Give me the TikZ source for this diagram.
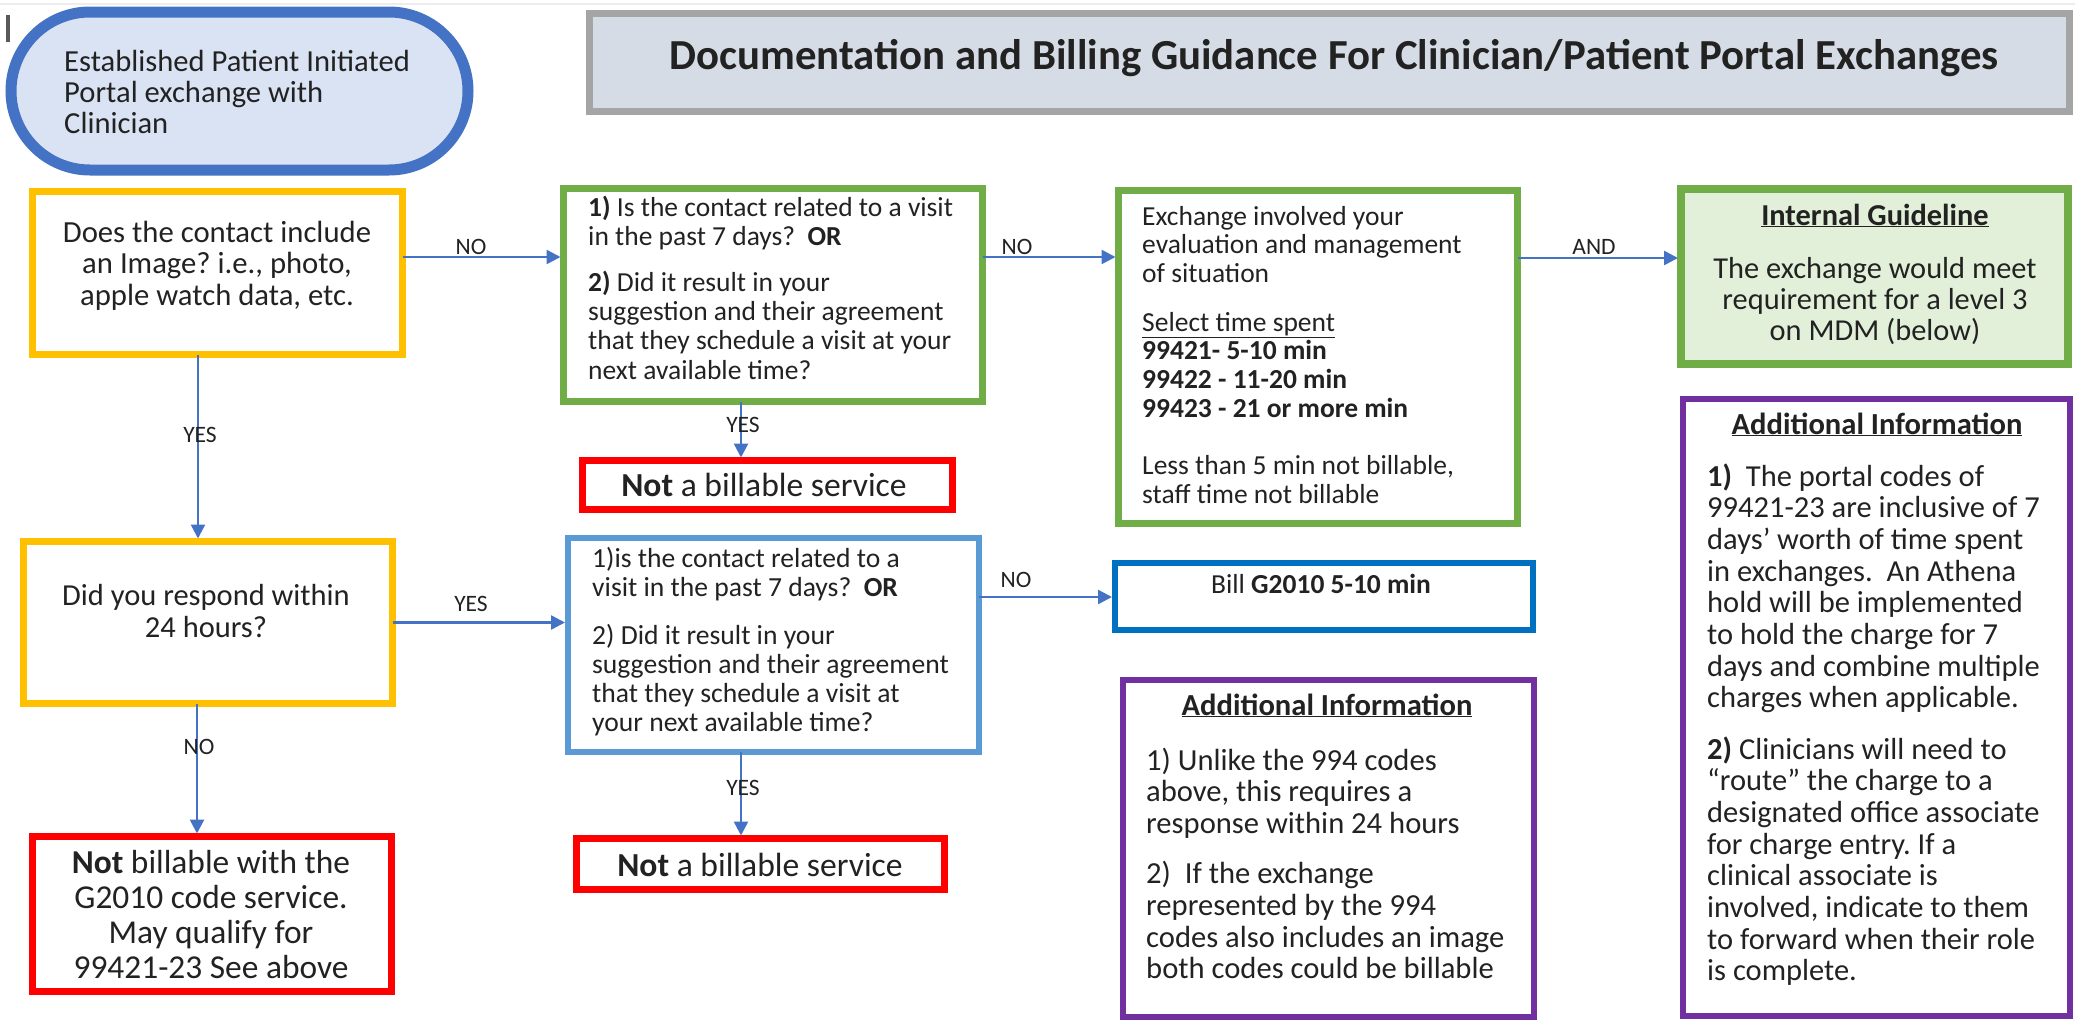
\documentclass[tikz,border=0pt]{standalone}
\usepackage{fontspec}
\setmainfont{Carlito}
\usetikzlibrary{arrows.meta}
\frenchspacing
\definecolor{txt}{HTML}{222222}
\definecolor{orng}{HTML}{FFC000}
\definecolor{grn}{HTML}{70AD47}
\definecolor{redb}{HTML}{FF0000}
\definecolor{lblue}{HTML}{5B9BD5}
\definecolor{dblue}{HTML}{0070C0}
\definecolor{purp}{HTML}{7030A0}
\definecolor{arrc}{HTML}{4472C4}
\definecolor{stfill}{HTML}{DAE3F3}
\definecolor{ttlfill}{HTML}{D6DCE5}
\definecolor{ttlline}{HTML}{A5A5A5}
\definecolor{igfill}{HTML}{E2F0D9}
\newcommand{\fs}[2]{\fontsize{#1pt}{#2pt}\selectfont}
\newcommand{\TL}[1]{\begin{tabular}[t]{@{}l@{}}#1\end{tabular}}
\newcommand{\TC}[1]{\begin{tabular}[t]{@{}c@{}}#1\end{tabular}}
\tikzset{
  box/.style={draw, rectangle, inner sep=0pt, outer sep=0pt, fill=white},
  lbl/.style={font=\fs{23.5}{28}, text=txt, inner sep=0pt},
  arr/.style={draw=arrc, line width=2.5pt, -{Triangle[length=14pt,width=14pt]}, shorten >=3pt},
  txtn/.style={inner sep=0pt, text=txt, anchor=base west},
  txtc/.style={inner sep=0pt, text=txt, anchor=base},
}
\begin{document}
\begin{tikzpicture}[x=1pt,y=-1pt]
\useasboundingbox (0,0) rectangle (2075,1023);
\fill[white] (0,0) rectangle (2075,1023);
\draw[line width=2pt, draw=black!7] (0,4) -- (2075,4);
\draw[line width=3.5pt, draw=black!65] (8,15) -- (8,42);

% start stadium
\node[draw=arrc, line width=11pt, fill=stfill, rounded corners=79pt, minimum width=457pt, minimum height=158pt, inner sep=0pt] (st) at (239.5,91) {};
\node[txtn] (tst) at (64,71) {\fs{30.6}{31}\TL{Established Patient Initiated\\Portal exchange with\\Clinician}};

% title
\node[box, draw=ttlline, line width=7pt, fill=ttlfill, minimum width=1480pt, minimum height=98pt] (ttl) at (1329,62) {};
\node[txtc] (tttl) at (1334,69) {\fs{42.8}{50}\bfseries Documentation and Billing Guidance For Clinician/Patient Portal Exchanges};

% boxes
\node[box, draw=orng, line width=7pt, minimum width=370pt, minimum height=163pt] (o1) at (217.5,273) {};
\node[box, draw=orng, line width=7pt, minimum width=369pt, minimum height=162pt] (o2) at (208,622.5) {};
\node[box, draw=grn, line width=7pt, minimum width=419pt, minimum height=213pt] (g1) at (773,295) {};
\node[box, draw=grn, line width=7pt, minimum width=399pt, minimum height=333pt] (g2) at (1318,357) {};
\node[box, draw=grn, line width=8pt, fill=igfill, minimum width=387pt, minimum height=175pt] (ig) at (1874.5,276.5) {};
\node[box, draw=purp, line width=6pt, minimum width=387pt, minimum height=617pt] (rp) at (1876.5,707.5) {};
\node[box, draw=redb, line width=7pt, minimum width=370pt, minimum height=49pt] (r1) at (767.5,485) {};
\node[box, draw=lblue, line width=6pt, minimum width=411pt, minimum height=214pt] (b1) at (773.5,645) {};
\node[box, draw=redb, line width=7pt, minimum width=368pt, minimum height=51pt] (r2) at (760.5,864) {};
\node[box, draw=dblue, line width=6pt, minimum width=418pt, minimum height=67pt] (bill) at (1324,596.5) {};
\node[box, draw=purp, line width=6pt, minimum width=411pt, minimum height=337pt] (mp) at (1328.5,848.5) {};
\node[box, draw=redb, line width=7pt, minimum width=359pt, minimum height=155pt] (r3) at (212,914) {};

% texts
\node[txtc] (to1) at (217,242) {\fs{30.7}{31.5}\TC{Does the contact include\\an Image? i.e., photo,\\apple watch data, etc.}};
\node[txtc] (to2) at (206,605) {\fs{30.5}{32}\TC{Did you respond within\\24 hours?}};
\node[txtn] (tg1) at (588,216) {\fs{27.5}{29.3}\TL{\textbf{1)} Is the contact related to a visit\\in the past 7 days?\ \ \textbf{OR}\\[16.7pt]\textbf{2)} Did it result in your\\suggestion and their agreement\\that they schedule a visit at your\\next available time?}};
\node[txtn] (tg2) at (1142,225) {\fs{27.5}{28.7}\TL{Exchange involved your\\evaluation and management\\of situation\\[20pt]\underline{Select time spent}\\\textbf{99421- 5-10 min}\\\textbf{99422 - 11-20 min}\\\textbf{99423 - 21 or more min}\\[29pt]Less than 5 min not billable,\\staff time not billable}};
\node[txtc] (tig) at (1875,225) {\fs{30.4}{31}\TC{\textbf{\underline{Internal Guideline}}\\[22pt]The exchange would meet\\requirement for a level 3\\on MDM (below)}};
\node[txtc] (trp1) at (1877,434) {\fs{30.6}{32}\textbf{\underline{Additional Information}}};
\node[txtn] (trp2) at (1707,486) {\fs{30.5}{31.7}\TL{\textbf{1)}\ \ The portal codes of\\99421-23 are inclusive of 7\\days’ worth of time spent\\in exchanges.\ \ An Athena\\hold will be implemented\\to hold the charge for 7\\days and combine multiple\\charges when applicable.\\[19pt]\textbf{2)} Clinicians will need to\\“route” the charge to a\\designated office associate\\for charge entry. If a\\clinical associate is\\involved, indicate to them\\to forward when their role\\is complete.}};
\node[txtc] (tr1) at (764,496) {\fs{33.6}{40}\textbf{Not} a billable service};
\node[txtn] (tb1) at (592,567) {\fs{27.6}{29}\TL{1)is the contact related to a\\visit in the past 7 days?\ \ \textbf{OR}\\[19pt]2) Did it result in your\\suggestion and their agreement\\that they schedule a visit at\\your next available time?}};
\node[txtc] (tr2) at (760,876) {\fs{33.6}{40}\textbf{Not} a billable service};
\node[txtc] (tbill) at (1321,593) {\fs{27.5}{30}Bill \textbf{G2010 5-10 min}};
\node[txtc] (tmp1) at (1327,715) {\fs{30.6}{32}\textbf{\underline{Additional Information}}};
\node[txtn] (tmp2) at (1146,770) {\fs{30.6}{31.8}\TL{1) Unlike the 994 codes\\above, this requires a\\response within 24 hours\\[18pt]2)\ \ If the exchange\\represented by the 994\\codes also includes an image\\both codes could be billable}};
\node[txtc] (tr3) at (211,873) {\fs{33.4}{35}\TC{\textbf{Not} billable with the\\G2010 code service.\\May qualify for\\99421-23 See above}};

% connectors
\coordinate (p1) at ([yshift=16pt]o1.east);
\draw[arr] (p1) -- (p1 -| g1.west);
\coordinate (p2) at ([yshift=38pt]g1.east);
\draw[arr] (p2) -- (p2 -| g2.west);
\coordinate (p3) at ([yshift=99pt]g2.east);
\draw[arr] (p3) -- (p3 -| ig.west);
\coordinate (p4) at ([xshift=-19.5pt]o1.south);
\draw[arr] (p4) -- (p4 |- o2.north);
\coordinate (p5) at ([xshift=-32pt]g1.south);
\draw[arr] (p5) -- (p5 |- r1.north);
\coordinate (p6) at (o2.east);
\draw[arr] (p6) -- (p6 -| b1.west);
\coordinate (p7) at ([xshift=-11pt]o2.south);
\draw[arr] (p7) -- (p7 |- r3.north);
\coordinate (p8) at ([yshift=48pt]b1.east);
\draw[arr] (p8) -- (p8 -| bill.west);
\coordinate (p9) at ([xshift=-32.5pt]b1.south);
\draw[arr] (p9) -- (p9 |- r2.north);

% labels
\node[lbl] (l1) at (471,247) {NO};
\node[lbl] (l2) at (200,435) {YES};
\node[lbl] (l3) at (1017,247) {NO};
\node[lbl] (l4) at (743,425) {YES};
\node[lbl] (l5) at (1594,247) {AND};
\node[lbl] (l6) at (471,604) {YES};
\node[lbl] (l7) at (199,747) {NO};
\node[lbl] (l8) at (1016,580) {NO};
\node[lbl] (l9) at (743,788) {YES};
\end{tikzpicture}
\end{document}
